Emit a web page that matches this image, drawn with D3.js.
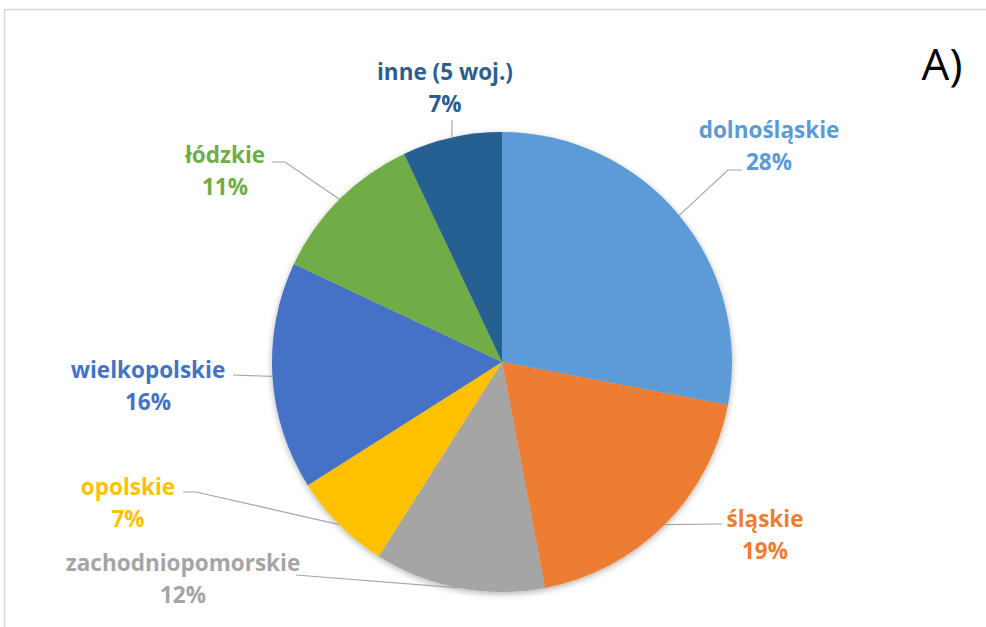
<!DOCTYPE html>
<html>
<head>
<meta charset="utf-8">
<script src="https://cdn.jsdelivr.net/npm/d3@7"></script>
<style>
body { margin:0; background:#fff; }
text { font-family: "Open Sans", Lato, sans-serif; }
</style>
</head>
<body>
<script>
var width = 986, height = 627;

// data
var names = ["dolnośląskie", "śląskie", "zachodniopomorskie", "opolskie", "wielkopolskie", "łódzkie", "inne (5 woj.)"];
var values = [28, 19, 12, 7, 16, 11, 7];
var colors = ["#5B9BD5", "#ED7D31", "#A5A5A5", "#FFC000", "#4472C4", "#70AD47", "#255E91"];
var textColors = ["#5B9BD5", "#ED7D31", "#A5A5A5", "#FFC000", "#4472C4", "#70AD47", "#2E5E90"];

// label layout: text centre, and where the leader line leaves the label
var labelPos = [
	{x:769, y:130, lx:742, ly:170, ex:728},
	{x:765, y:519, lx:722, ly:524, ex:null},
	{x:183, y:563, lx:296, ly:575, ex:null},
	{x:128, y:487, lx:183, ly:492, ex:196},
	{x:148, y:370, lx:233, ly:375, ex:null},
	{x:225, y:155, lx:272, ly:162, ex:285},
	{x:445, y:72,  lx:452, ly:120, ex:null}
];

var cx = 502, cy = 362, r = 230;

var svg = d3.select("body")
	.append("svg")
	.attr("width", width)
	.attr("height", height);

var defs = svg.append("defs");
var f = defs.append("filter").attr("id", "shadow")
	.attr("x", "-10%").attr("y", "-10%").attr("width", "120%").attr("height", "120%");
f.append("feDropShadow")
	.attr("dx", 0).attr("dy", 2).attr("stdDeviation", 3)
	.attr("flood-color", "#000").attr("flood-opacity", 0.3);

// frame
svg.append("rect")
	.attr("x", 4.5).attr("y", 9.5)
	.attr("width", width + 10).attr("height", height + 10)
	.attr("fill", "none").attr("stroke", "#d9d9d9").attr("stroke-width", 1.5);

var data = names.map(function(n, i){ return {name:n, value:values[i], i:i}; });

var pie = d3.pie().sort(null).value(function(d){ return d.value; });
var arcs = pie(data);
var arc = d3.arc().innerRadius(0).outerRadius(r);

var g = svg.append("g").attr("transform", "translate(" + cx + "," + cy + ")");

g.append("g").attr("filter", "url(#shadow)")
	.selectAll("path")
	.data(arcs)
	.enter().append("path")
	.attr("d", arc)
	.attr("fill", function(d){ return colors[d.data.i]; });

// leader lines
svg.append("g").selectAll("polyline")
	.data(arcs)
	.enter().append("polyline")
	.attr("fill", "none")
	.attr("stroke", "#a6a6a6")
	.attr("stroke-width", 1.2)
	.attr("points", function(d){
		var p = labelPos[d.data.i];
		var a = (d.startAngle + d.endAngle) / 2;
		var px = cx + r * Math.sin(a), py = cy - r * Math.cos(a);
		var pts = [[p.lx, p.ly]];
		if (p.ex !== null) pts.push([p.ex, p.ly]);
		pts.push([px, py]);
		return pts.map(function(q){ return q.join(","); }).join(" ");
	});

// labels
var lab = svg.append("g").selectAll("text")
	.data(arcs)
	.enter().append("text")
	.attr("text-anchor", "middle")
	.attr("font-size", 22.5)
	.attr("font-weight", "bold")
	.attr("fill", function(d){ return textColors[d.data.i]; })
	.attr("x", function(d){ return labelPos[d.data.i].x; })
	.attr("y", function(d){ return labelPos[d.data.i].y; });

lab.append("tspan")
	.attr("x", function(d){ return labelPos[d.data.i].x; })
	.attr("dy", "0.35em")
	.text(function(d){ return d.data.name; });
lab.append("tspan")
	.attr("x", function(d){ return labelPos[d.data.i].x; })
	.attr("dy", 32)
	.text(function(d){ return d.data.value + "%"; });

svg.append("text")
	.attr("x", 942).attr("y", 80)
	.attr("text-anchor", "middle")
	.attr("font-size", 44)
	.attr("fill", "#000")
	.text("A)");
</script>
</body>
</html>
